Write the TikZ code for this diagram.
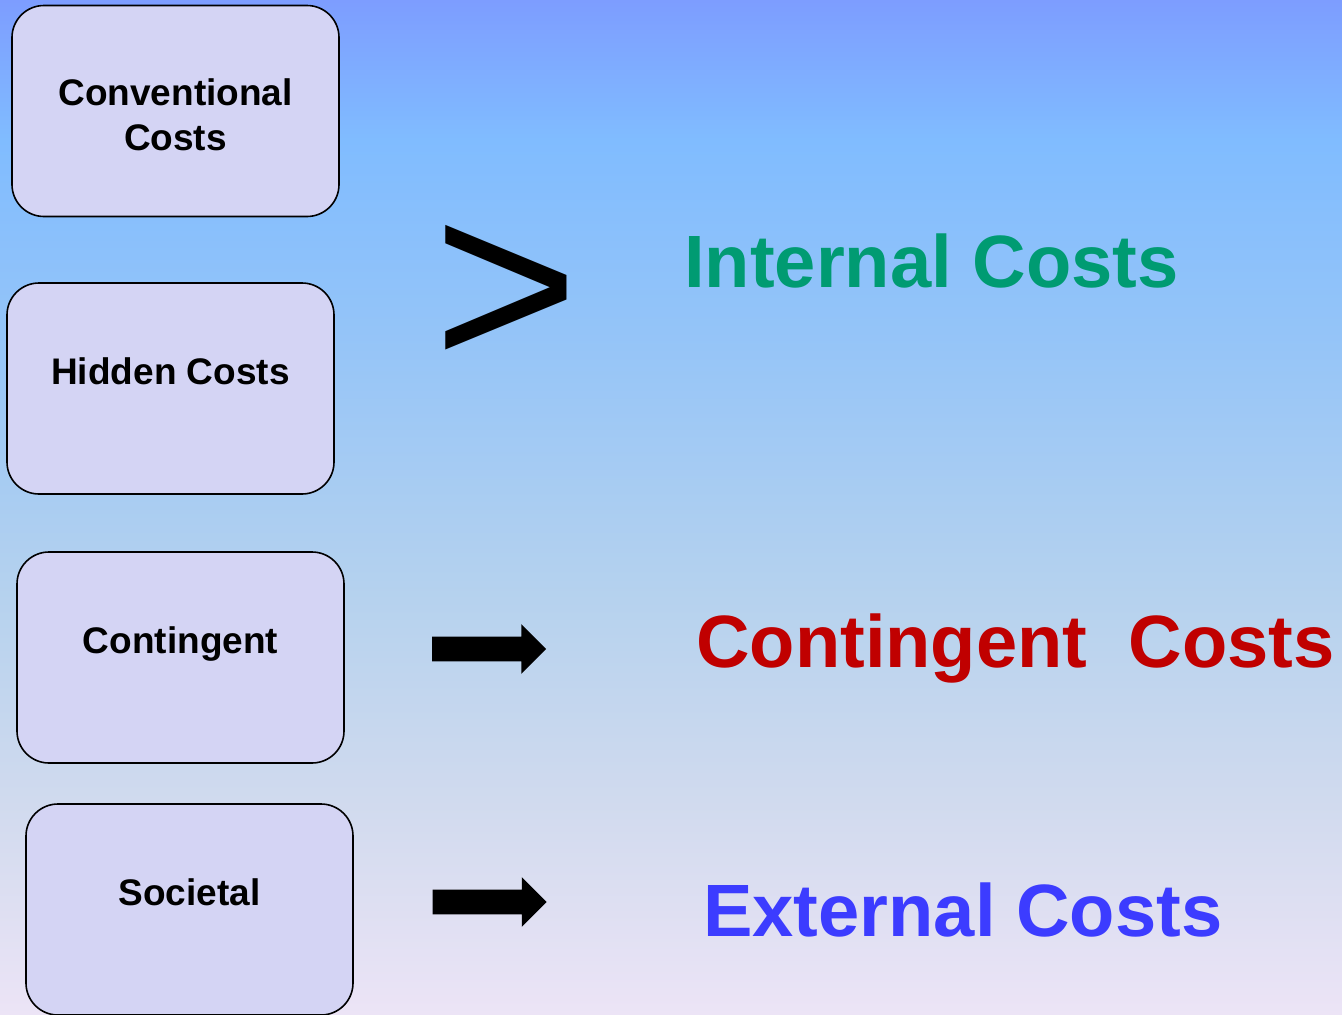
\documentclass[tikz,border=0pt]{standalone}
\usepackage{fontspec}
\setmainfont{Liberation Sans}
\usetikzlibrary{shapes.arrows}
\definecolor{boxfill}{HTML}{D4D4F4}
\definecolor{intgreen}{HTML}{009B72}
\definecolor{contred}{HTML}{C00000}
\definecolor{extblue}{HTML}{3C3CFF}
\definecolor{bgA}{RGB}{125,157,255}
\definecolor{bgB}{RGB}{128,188,255}
\definecolor{bgC}{RGB}{148,196,248}
\definecolor{bgD}{RGB}{182,210,238}
\definecolor{bgE}{RGB}{208,218,238}
\definecolor{bgF}{RGB}{236,228,246}
\pgfdeclareverticalshading{bgshade}{100bp}{color(0bp)=(bgF); color(25bp)=(bgF); color(35.6bp)=(bgE); color(45.4bp)=(bgD); color(58.7bp)=(bgC); color(68.1bp)=(bgB); color(75bp)=(bgA); color(100bp)=(bgA)}
\tikzset{
  costbox/.style={draw=black, line width=1.2pt, fill=boxfill, rounded corners=24pt,
    minimum width=245.25pt, minimum height=158.25pt, inner sep=0pt},
  boxtext/.style={font=\fontsize{27.75}{33.75}\selectfont\bfseries, align=center, inner sep=0pt, anchor=base},
  bigtext/.style={font=\fontsize{55.6}{60}\selectfont\bfseries, inner sep=0pt, anchor=base west},
  blockarrow/.style={single arrow, fill=black, draw=none, inner xsep=0pt, inner ysep=9pt,
    minimum height=85.5pt, minimum width=0pt, single arrow head extend=9.375pt,
    single arrow head indent=0pt}
}
\begin{document}
\begin{tikzpicture}[x=0.75pt,y=-0.75pt]
\useasboundingbox (0,0) rectangle (1342,1014);
\shade[shading=bgshade] (0,0) rectangle (1342,1014);
\begin{scope}
\clip (0,0) rectangle (1342,1014);
\node[costbox] (conv) at (175.5,111) {};
\node[costbox] (hid) at (170.5,388.5) {};
\node[costbox] (cont) at (180.5,657.5) {};
\node[costbox] (soc) at (189.5,909.5) {};
\end{scope}
\node[boxtext] (convt) at ([yshift=-29.25pt]conv.center) {Conventional\\Costs};
\node[boxtext] (hidt) at ([yshift=3pt]hid.center) {Hidden Costs};
\node[boxtext] (contt) at ([yshift=3pt]cont.center) {Contingent};
\node[boxtext] (soct) at ([yshift=3pt]soc.center) {Societal};
\node[inner sep=0pt, font=\fontsize{187}{190}\selectfont, yscale=0.985] (gt) at (506.5,296.5) {>};
\node[blockarrow] (a1) at (483,649) {};
\node[blockarrow] (a2) at (483.5,902) {};
\node[bigtext, text=intgreen] (intc) at (684,287) {Internal Costs};
\node[bigtext, text=contred] (contc) at (696,667) {Contingent\ \ Costs};
\node[bigtext, text=extblue] (extc) at (703,936) {External Costs};
\end{tikzpicture}
\end{document}
